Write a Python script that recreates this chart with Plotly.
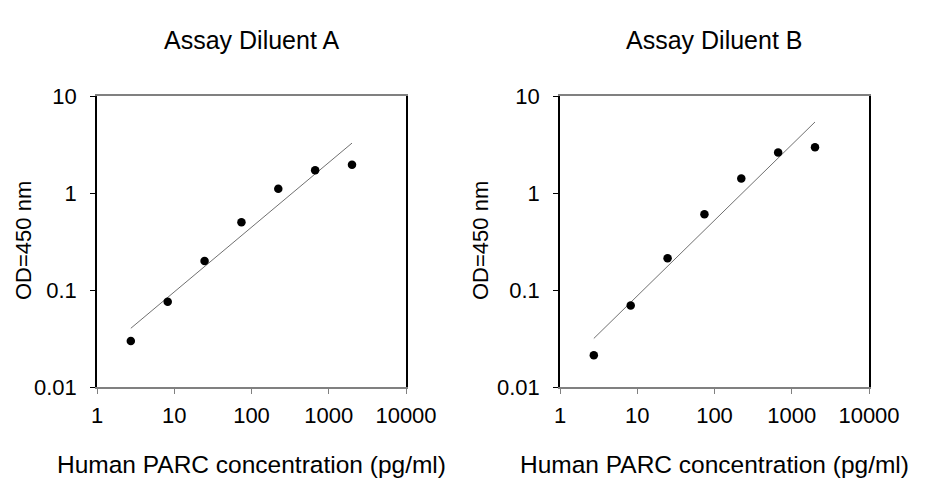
import numpy as np
import plotly.graph_objects as go

# ---- data ----
concentration = [2.74, 8.23, 24.7, 74.1, 222.2, 666.7, 2000]
od_diluent_a = [0.0298, 0.0757, 0.199, 0.499, 1.107, 1.714, 1.96]
od_diluent_b = [0.0213, 0.0692, 0.212, 0.603, 1.413, 2.62, 2.97]
panel_titles = ["Assay Diluent A", "Assay Diluent B"]
x_tick_vals = [1, 10, 100, 1000, 10000]
x_tick_text = ["1", "10", "100", "1000", "10000"]
y_tick_vals = [0.01, 0.1, 1, 10]
y_tick_text = ["0.01", "0.1", "1", "10"]
x_title = "Human PARC concentration (pg/ml)"
y_title = "OD=450 nm"

FONT = "Liberation Sans, Arial, sans-serif"
OFF = 8                      # page body margin offset
W, H = 926 - OFF, 480 - OFF  # figure size so it ends at window edge


def px(x):
    return (x - OFF) / W


def py(y):
    return 1 - (y - OFF) / H


def loglog_fit(x, y):
    lx, ly = np.log10(x), np.log10(y)
    slope, intercept = np.polyfit(lx, ly, 1)
    xs = np.array([min(x), max(x)])
    return xs, 10 ** (intercept + slope * np.log10(xs))


fig = go.Figure()

series = [od_diluent_a, od_diluent_b]
axes = [("x", "y"), ("x2", "y2")]
for vals, (xa, ya) in zip(series, axes):
    fx, fy = loglog_fit(concentration, vals)
    fig.add_trace(go.Scatter(x=fx, y=fy, mode="lines", xaxis=xa, yaxis=ya,
                             line=dict(color="#707070", width=1), showlegend=False,
                             hoverinfo="skip"))
    fig.add_trace(go.Scatter(x=concentration, y=vals, mode="markers", xaxis=xa, yaxis=ya,
                             marker=dict(color="black", size=8.5), showlegend=False))

x_domains = [[px(97), px(406)], [px(560), px(869)]]
y_domain = [py(387), py(96)]

common_x = dict(type="log", range=[0, 4], tickvals=x_tick_vals, ticktext=x_tick_text,
                showgrid=False, zeroline=False, showline=True, linecolor="#808080",
                linewidth=1.5, mirror=True, ticks="outside", ticklen=5, tickcolor="#808080",
                tickwidth=1.2, ticklabelstandoff=3, automargin=False,
                tickfont=dict(family=FONT, size=22, color="black"))
common_y = dict(type="log", range=[-2, 1], tickvals=y_tick_vals, ticktext=y_tick_text,
                showgrid=False, zeroline=False, showline=True, linecolor="black",
                linewidth=1.5, mirror=True, ticks="outside", ticklen=5, tickcolor="black",
                tickwidth=1.2, ticklabelstandoff=9, automargin=False,
                tickfont=dict(family=FONT, size=22, color="black"), domain=y_domain)

fig.update_layout(
    width=W, height=H, margin=dict(l=0, r=0, t=0, b=0, autoexpand=False),
    paper_bgcolor="white", plot_bgcolor="white",
    xaxis=dict(common_x, domain=x_domains[0], anchor="y"),
    yaxis=dict(common_y, anchor="x"),
    xaxis2=dict(common_x, domain=x_domains[1], anchor="y2"),
    yaxis2=dict(common_y, anchor="x2"),
)

annotations = []
for i, dom in enumerate(x_domains):
    cx = (dom[0] + dom[1]) / 2
    annotations.append(dict(text=panel_titles[i], x=cx, y=py(40), xref="paper", yref="paper",
                            showarrow=False, xanchor="center", yanchor="middle",
                            font=dict(family=FONT, size=25, color="black")))
    annotations.append(dict(text=x_title, x=cx, y=py(464), xref="paper", yref="paper",
                            showarrow=False, xanchor="center", yanchor="middle",
                            font=dict(family=FONT, size=24.5, color="black")))
for xt in [23, 480]:
    annotations.append(dict(text=y_title, x=px(xt), y=py(241), xref="paper", yref="paper",
                            showarrow=False, xanchor="center", yanchor="middle", textangle=-90,
                            borderpad=0, font=dict(family=FONT, size=22, color="black")))
fig.update_layout(annotations=annotations)

fig.write_html("out.html")
